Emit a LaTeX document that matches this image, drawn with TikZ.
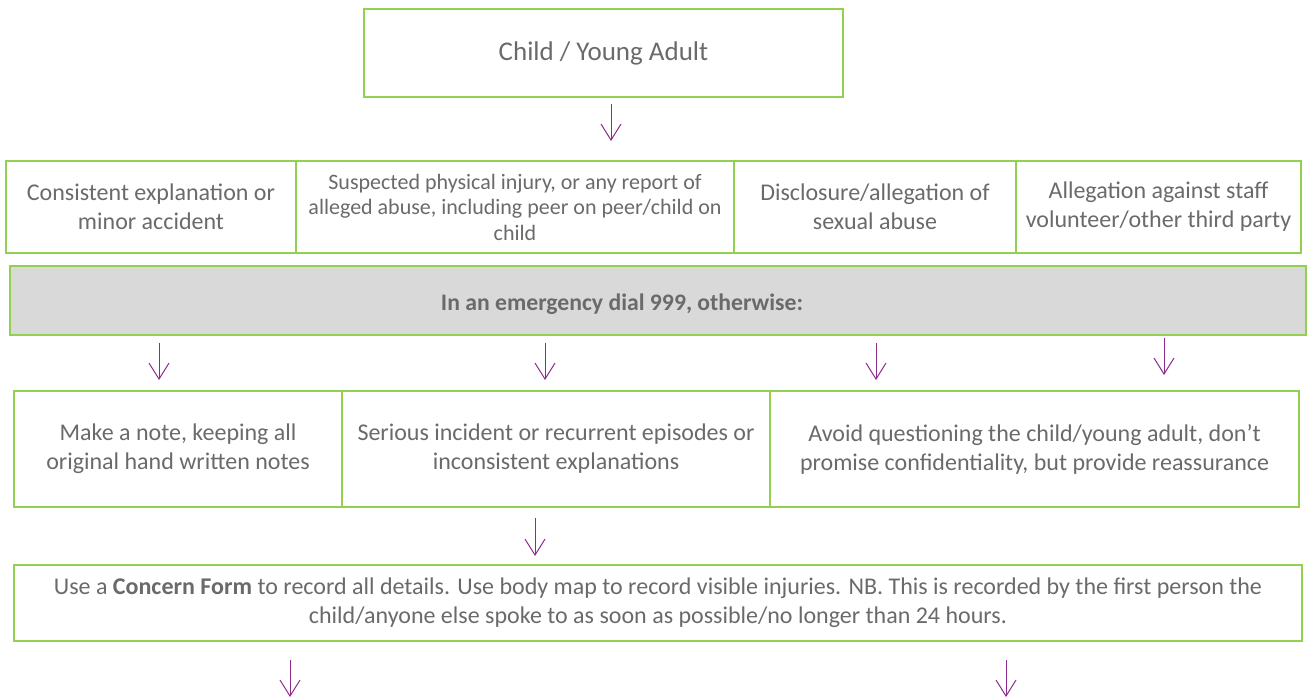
\documentclass[tikz,border=0pt]{standalone}
\usepackage{fontspec}
\setmainfont{Carlito}
\usetikzlibrary{arrows.meta}
\usetikzlibrary{positioning}

\definecolor{boxgreen}{HTML}{92D050}
\definecolor{arrowpurple}{HTML}{8E2A8E}
\definecolor{textgrey}{HTML}{6A6A6A}
\definecolor{bargrey}{HTML}{D9D9D9}

\begin{document}
\begin{tikzpicture}[x=1pt, y=-1pt, ->, >={Straight Barb[length=16pt, width=20pt]},
    cell/.style={draw=boxgreen, line width=1.2pt, text=textgrey, align=center,
                 inner sep=0pt, font=\fontsize{24}{29}\selectfont},
    flow/.style={arrowpurple, line width=1pt}]

    \useasboundingbox (0,0) rectangle (1311,700);

    % Nodes

    \node[cell, minimum width=479pt, minimum height=88pt, font=\fontsize{27}{30}\selectfont] (child) at (603.5,53) {Child / Young Adult}; %

    \node[cell, minimum width=290pt, minimum height=92pt] (minor)  at (151,207)   {Consistent explanation or\\minor accident}; %
    \node[cell, minimum width=438pt, minimum height=92pt, font=\fontsize{22}{25.5}\selectfont]
                                                          (injury) at (515,207)   {Suspected physical injury, or any report of\\alleged abuse, including peer on peer/child on\\child}; %
    \node[cell, minimum width=282pt, minimum height=92pt] (sexual) at (875,207)   {Disclosure/allegation of\\sexual abuse}; %
    \node[cell, minimum width=285pt, minimum height=92pt] (staff)  at (1158.5,207) {Allegation against staff\\volunteer/other third party}; %

    \node[cell, fill=bargrey, minimum width=1296pt, minimum height=69pt] (emergency) at (658,300.5) {}; %
    \node[text=textgrey, font=\fontsize{23.7}{26}\selectfont\bfseries] (emergtext) at (622,304) {In an emergency dial 999, otherwise:}; %

    \node[cell, minimum width=328pt, minimum height=116pt] (note)     at (178,449)    {Make a note, keeping all\\original hand written notes}; %
    \node[cell, minimum width=428pt, minimum height=116pt] (serious)  at (556,449)    {Serious incident or recurrent episodes or\\inconsistent explanations}; %
    \node[cell, minimum width=529pt, minimum height=116pt] (avoid)    at (1034.5,449) {Avoid questioning the child/young adult, don’t\\promise confidentiality, but provide reassurance}; %

    \node[cell, minimum width=1288pt, minimum height=76pt] (concern) at (658,603) {Use a \textbf{Concern Form} to record all details. Use body map to record visible injuries. NB. This is recorded by the first person the\\child/anyone else spoke to as soon as possible/no longer than 24 hours.}; %

    % Arrow ends
    \coordinate (a0s) at (611,104);  \coordinate (a0e) at (611,141);
    \coordinate (a1s) at (159,343);  \coordinate (a1e) at (159,380);
    \coordinate (a2s) at (545,343);  \coordinate (a2e) at (545,380);
    \coordinate (a3s) at (876,343);  \coordinate (a3e) at (876,380);
    \coordinate (a4s) at (1164,338); \coordinate (a4e) at (1164,375);
    \coordinate (a5s) at (535,518);  \coordinate (a5e) at (535,556);
    \coordinate (a6s) at (290,660);  \coordinate (a6e) at (290,697);
    \coordinate (a7s) at (1006,660); \coordinate (a7e) at (1006,697);

    \foreach \i in {0,...,7}
        \draw[flow] (a\i s) -- (a\i e);

\end{tikzpicture}
\end{document}
